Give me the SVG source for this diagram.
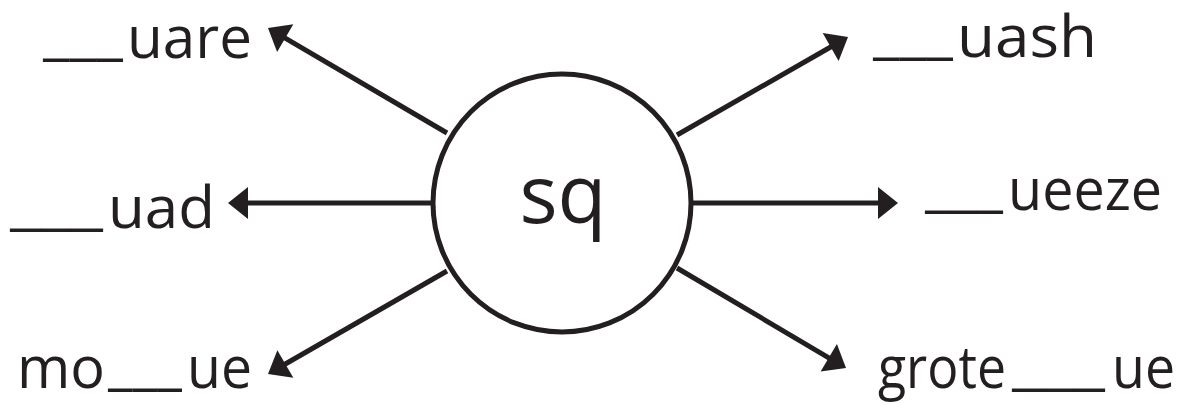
<svg xmlns="http://www.w3.org/2000/svg" width="1186" height="405" viewBox="0 0 1186 405">
<style>
.lbl{font-family:"Open Sans","DejaVu Sans",sans-serif;font-size:59px;fill:#231f20}
.ctr{font-family:"Open Sans","DejaVu Sans",sans-serif;font-size:80px;fill:#231f20}
.conn line{stroke:#231f20;stroke-width:5;fill:none}
</style>
<defs>
<marker id="ah" markerUnits="userSpaceOnUse" markerWidth="22" markerHeight="34" refX="2" refY="16" orient="auto" overflow="visible">
<path d="M0,0 L20,16 L0,32 Z" fill="#231f20"/>
</marker>
</defs>
<rect width="1186" height="405" fill="#ffffff"/>
<g id="connectors" class="conn">
<line x1="447" y1="133" x2="283.5" y2="37.1" marker-end="url(#ah)"/>
<line x1="432" y1="203" x2="246" y2="203" marker-end="url(#ah)"/>
<line x1="447" y1="271" x2="283.6" y2="365" marker-end="url(#ah)"/>
<line x1="677" y1="135" x2="832.4" y2="46" marker-end="url(#ah)"/>
<line x1="693" y1="203" x2="880" y2="203" marker-end="url(#ah)"/>
<line x1="677" y1="268" x2="830.5" y2="358.8" marker-end="url(#ah)"/>
</g>
<g id="center">
<circle cx="562" cy="203" r="129" fill="#ffffff" stroke="#231f20" stroke-width="5"/>
<text class="ctr" x="563" y="223" text-anchor="middle">sq</text>
</g>
<g id="n-uare">
<text class="lbl" y="58"><tspan x="43" dy="-5" textLength="80" lengthAdjust="spacingAndGlyphs">___</tspan><tspan x="127" dy="5" textLength="125" lengthAdjust="spacingAndGlyphs">uare</tspan></text>
</g>
<g id="n-uad">
<text class="lbl" y="228"><tspan x="10" dy="-5" textLength="93" lengthAdjust="spacingAndGlyphs">___</tspan><tspan x="108" dy="5" textLength="107" lengthAdjust="spacingAndGlyphs">uad</tspan></text>
</g>
<g id="n-moue">
<text class="lbl" y="388"><tspan x="17" textLength="88" lengthAdjust="spacingAndGlyphs">mo</tspan><tspan x="108" dy="-5" textLength="74" lengthAdjust="spacingAndGlyphs">___</tspan><tspan x="187" dy="5" textLength="65" lengthAdjust="spacingAndGlyphs">ue</tspan></text>
</g>
<g id="n-uash">
<text class="lbl" y="57"><tspan x="873" dy="-5" textLength="80" lengthAdjust="spacingAndGlyphs">___</tspan><tspan x="957" dy="5" textLength="140" lengthAdjust="spacingAndGlyphs">uash</tspan></text>
</g>
<g id="n-ueeze">
<text class="lbl" y="210"><tspan x="925" dy="-5" textLength="78" lengthAdjust="spacingAndGlyphs">___</tspan><tspan x="1008" dy="5" textLength="154" lengthAdjust="spacingAndGlyphs">ueeze</tspan></text>
</g>
<g id="n-groteue">
<text class="lbl" y="388"><tspan x="878" textLength="128" lengthAdjust="spacingAndGlyphs">grote</tspan><tspan x="1012" dy="-5" textLength="93" lengthAdjust="spacingAndGlyphs">___</tspan><tspan x="1112" dy="5" textLength="63" lengthAdjust="spacingAndGlyphs">ue</tspan></text>
</g>
</svg>
